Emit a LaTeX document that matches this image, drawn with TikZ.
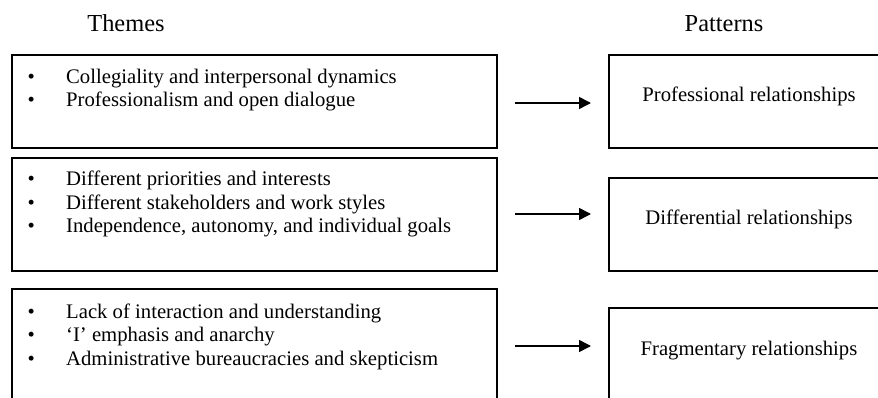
\documentclass[tikz,border=0pt]{standalone}
\usepackage{fontspec}
\setmainfont{Liberation Serif}
\usetikzlibrary{arrows.meta}
\tikzset{
  box/.style={draw, line width=1.5pt, inner sep=0pt, outer sep=0pt, rectangle},
  item/.style={anchor=base west, inner sep=0pt, font=\fontsize{20.7}{23.5}\selectfont},
  pattxt/.style={anchor=base, inner sep=0pt, font=\fontsize{20.7}{23.5}\selectfont},
  head/.style={anchor=base, inner sep=0pt, font=\fontsize{24.4}{28}\selectfont},
  arr/.style={-{Triangle[length=12pt,width=12pt]}, line width=1.5pt, shorten <=18pt, shorten >=18pt}
}
\newcommand{\bul}[1]{\makebox[38.5pt][l]{\textbullet}#1}
\begin{document}
\begin{tikzpicture}[x=1pt,y=-1pt]
\useasboundingbox (0,0) rectangle (878,398);
\clip (0,0) rectangle (878,398);
% headers
\node[head] (hT) at (126,32) {Themes};
\node[head] (hP) at (724,32) {Patterns};
% theme boxes
\node[box, minimum width=485pt, minimum height=93pt] (t1) at (254.5,101.5) {};
\node[box, minimum width=485pt, minimum height=113pt] (t2) at (254.5,214.5) {};
\node[box, minimum width=485pt, minimum height=131pt] (t3) at (254.5,354.5) {};
% pattern boxes
\node[box, minimum width=291pt, minimum height=93pt] (p1) at (754.5,101.5) {};
\node[box, minimum width=291pt, minimum height=93pt] (p2) at (754.5,224.5) {};
\node[box, minimum width=291pt, minimum height=132pt] (p3) at (754.5,374) {};
% theme items
\node[item] (t1a) at (27.5,83.5) {\bul{Collegiality and interpersonal dynamics}};
\node[item] (t1b) at (27.5,107) {\bul{Professionalism and open dialogue}};
\node[item] (t2a) at (27.5,186) {\bul{Different priorities and interests}};
\node[item] (t2b) at (27.5,209.5) {\bul{Different stakeholders and work styles}};
\node[item] (t2c) at (27.5,233) {\bul{Independence, autonomy, and individual goals}};
\node[item] (t3a) at (27.5,318) {\bul{Lack of interaction and understanding}};
\node[item] (t3b) at (27.5,341.5) {\bul{‘I’ emphasis and anarchy}};
\node[item] (t3c) at (27.5,365) {\bul{Administrative bureaucracies and skepticism}};
% pattern labels
\node[pattxt] (p1t) at (749,101.7) {Professional relationships};
\node[pattxt] (p2t) at (749,225) {Differential relationships};
\node[pattxt] (p3t) at (749,355) {Fragmentary relationships};
% arrow levels
\coordinate (y1) at (0,103);
\coordinate (y2) at (0,214);
\coordinate (y3) at (0,346);
\draw[arr] (t1.east |- y1) -- (p1.west |- y1);
\draw[arr] (t2.east |- y2) -- (p2.west |- y2);
\draw[arr] (t3.east |- y3) -- (p3.west |- y3);
\end{tikzpicture}
\end{document}
